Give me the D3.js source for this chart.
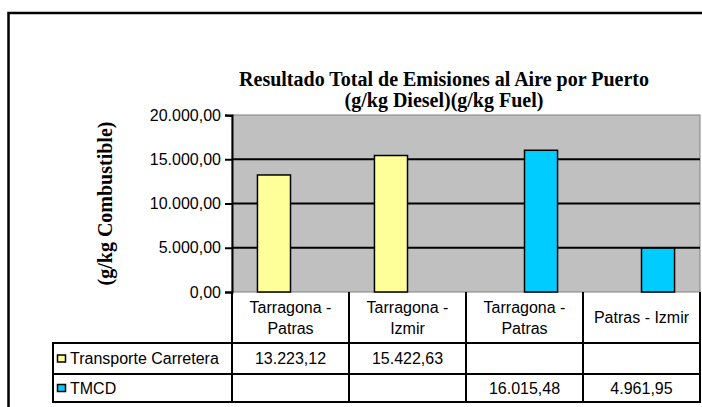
<!DOCTYPE html>
<html>
<head>
	<meta charset="utf-8">
	<title>emisiones-por-puerto</title>
	<script src="https://d3js.org/d3.v7.min.js"></script>
	<style>
		body { margin: 0; background: #fff; }
		text { font-family: "Liberation Sans", Arial, sans-serif; font-size: 16px; fill: #000; }
		.serif { font-family: "Liberation Serif", "Times New Roman", serif; font-weight: bold; font-size: 20px; }
	</style>
</head>
<body>
	<svg width="702" height="407"></svg>
	<script type="text/javascript">
		// categorias (cada una partida en lineas como en la tabla)
		var categories = ['Tarragona - Patras (TC)', 'Tarragona - Izmir', 'Tarragona - Patras (TMCD)', 'Patras - Izmir'];
		var categoryLines = [['Tarragona -', 'Patras'], ['Tarragona -', 'Izmir'], ['Tarragona -', 'Patras'], ['Patras - Izmir']];
		var seriesNames = ['Transporte Carretera', 'TMCD'];
		var transporte = [13223.12, 15422.63, null, null];
		var tmcd = [null, null, 16015.48, 4961.95];
		var yTicks = [0, 5000, 10000, 15000, 20000];
		var colors = ['#FFFF99', '#00CCFF'];

		var es = d3.formatLocale({ decimal: ',', thousands: '.', grouping: [3], currency: ['', ''] });
		var fmt = es.format(',.2f');

		var svg = d3.select('svg');
		var plot = { left: 232, right: 700, top: 115, bottom: 292 };
		var tableLeft = 53, headerBottom = 343, rowH = [343, 374, 402];

		// marco exterior (sigue fuera de la imagen)
		svg.append('rect')
			.attr('x', 8.5).attr('y', 13)
			.attr('width', 720).attr('height', 420)
			.attr('fill', 'none').attr('stroke', '#000').attr('stroke-width', 2.5);

		var x0 = d3.scaleBand().domain(categories).range([plot.left, plot.right]);
		var x1 = d3.scaleBand().domain(seriesNames).range([0, x0.bandwidth()]).paddingInner(0).paddingOuter(0.77);
		var y = d3.scaleLinear().domain([0, 20000]).range([plot.bottom, plot.top]);

		svg.append('rect')
			.attr('x', plot.left).attr('y', plot.top)
			.attr('width', plot.right - plot.left).attr('height', plot.bottom - plot.top)
			.attr('fill', '#C0C0C0').attr('stroke', '#808080').attr('stroke-width', 1);

		// lineas de division
		svg.append('g')
			.selectAll('line')
			.data(yTicks.filter(d => d > 0 && d < 20000))
			.enter().append('line')
			.attr('x1', plot.left).attr('x2', plot.right)
			.attr('y1', d => y(d)).attr('y2', d => y(d))
			.attr('stroke', '#000').attr('stroke-width', 2);

		// barras
		var seriesData = [transporte, tmcd];
		var g = svg.selectAll('.series')
			.data(seriesData)
			.enter().append('g')
			.classed('series', true)
			.attr('fill', (d, i) => colors[i]);

		g.each(function (vals, si) {
			d3.select(this).selectAll('rect')
				.data(vals.map((v, ci) => ({ v: v, c: categories[ci] })).filter(d => d.v != null))
				.enter().append('rect')
				.attr('x', d => x0(d.c) + x1(seriesNames[si]))
				.attr('y', d => y(d.v))
				.attr('width', x1.bandwidth())
				.attr('height', d => y(0) - y(d.v))
				.attr('stroke', '#000').attr('stroke-width', 1.5);
		});

		// eje Y
		var yAxis = d3.axisLeft(y).tickValues(yTicks).tickSize(7).tickPadding(4).tickFormat(fmt);
		var ya = svg.append('g').attr('transform', 'translate(' + plot.left + ',0)').call(yAxis);
		ya.select('.domain').attr('stroke', '#000').attr('stroke-width', 2);
		ya.selectAll('.tick line').attr('stroke', '#000').attr('stroke-width', 2);
		ya.selectAll('.tick text').attr('font-family', null).attr('font-size', null).style('font-size', '16px');
		ya.selectAll('.tick').filter(d => d === 20000).select('line').attr('y1', 0.5);

		svg.append('text')
			.attr('class', 'serif')
			.attr('transform', 'translate(112,' + ((115 + 292) / 2) + ') rotate(-90)')
			.attr('text-anchor', 'middle')
			.text('(g/kg Combustible)');

		// titulo
		var title = svg.append('text').attr('class', 'serif').attr('text-anchor', 'middle');
		title.append('tspan').attr('x', 444).attr('y', 86).text('Resultado Total de Emisiones al Aire por Puerto');
		title.append('tspan').attr('x', 444).attr('y', 107).text('(g/kg Diesel)(g/kg Fuel)');

		// tabla de datos
		var tbl = svg.append('g').attr('stroke', '#000').attr('stroke-width', 2);
		var edges = categories.map(c => x0(c)).concat([plot.right]);
		tbl.selectAll('.v').data(edges).enter().append('line')
			.attr('x1', d => d).attr('x2', d => d)
			.attr('y1', plot.bottom).attr('y2', rowH[2]);
		tbl.append('line').attr('x1', tableLeft).attr('x2', tableLeft).attr('y1', rowH[0]).attr('y2', rowH[2]);
		tbl.selectAll('.h').data(rowH).enter().append('line')
			.attr('x1', tableLeft - 1).attr('x2', plot.right + 1)
			.attr('y1', d => d).attr('y2', d => d);

		// etiquetas de categoria
		svg.selectAll('.cat')
			.data(categories)
			.enter().append('text')
			.attr('text-anchor', 'middle')
			.each(function (c, i) {
				var lines = categoryLines[i];
				var cx = x0(c) + x0.bandwidth() / 2;
				var y0 = (plot.bottom + headerBottom) / 2 - (lines.length - 1) * 10.5;
				d3.select(this).selectAll('tspan')
					.data(lines)
					.enter().append('tspan')
					.attr('x', cx)
					.attr('y', (d, k) => y0 + k * 21)
					.attr('dy', '0.36em')
					.text(d => d);
			});

		// filas de la leyenda con valores
		seriesNames.forEach(function (name, si) {
			var cy = (rowH[si] + rowH[si + 1]) / 2;
			svg.append('rect')
				.attr('x', 57.5).attr('y', cy - 3.5)
				.attr('width', 8).attr('height', 7)
				.attr('fill', colors[si]).attr('stroke', '#000').attr('stroke-width', 1.5);
			svg.append('text').attr('x', 70).attr('y', cy).attr('dy', '0.36em').text(name);
			svg.selectAll('.val' + si)
				.data(seriesData[si].map((v, ci) => ({ v: v, c: categories[ci] })).filter(d => d.v != null))
				.enter().append('text')
				.attr('text-anchor', 'middle')
				.attr('x', d => x0(d.c) + x0.bandwidth() / 2)
				.attr('y', cy).attr('dy', '0.36em')
				.text(d => fmt(d.v));
		});
	</script>
</body>
</html>
